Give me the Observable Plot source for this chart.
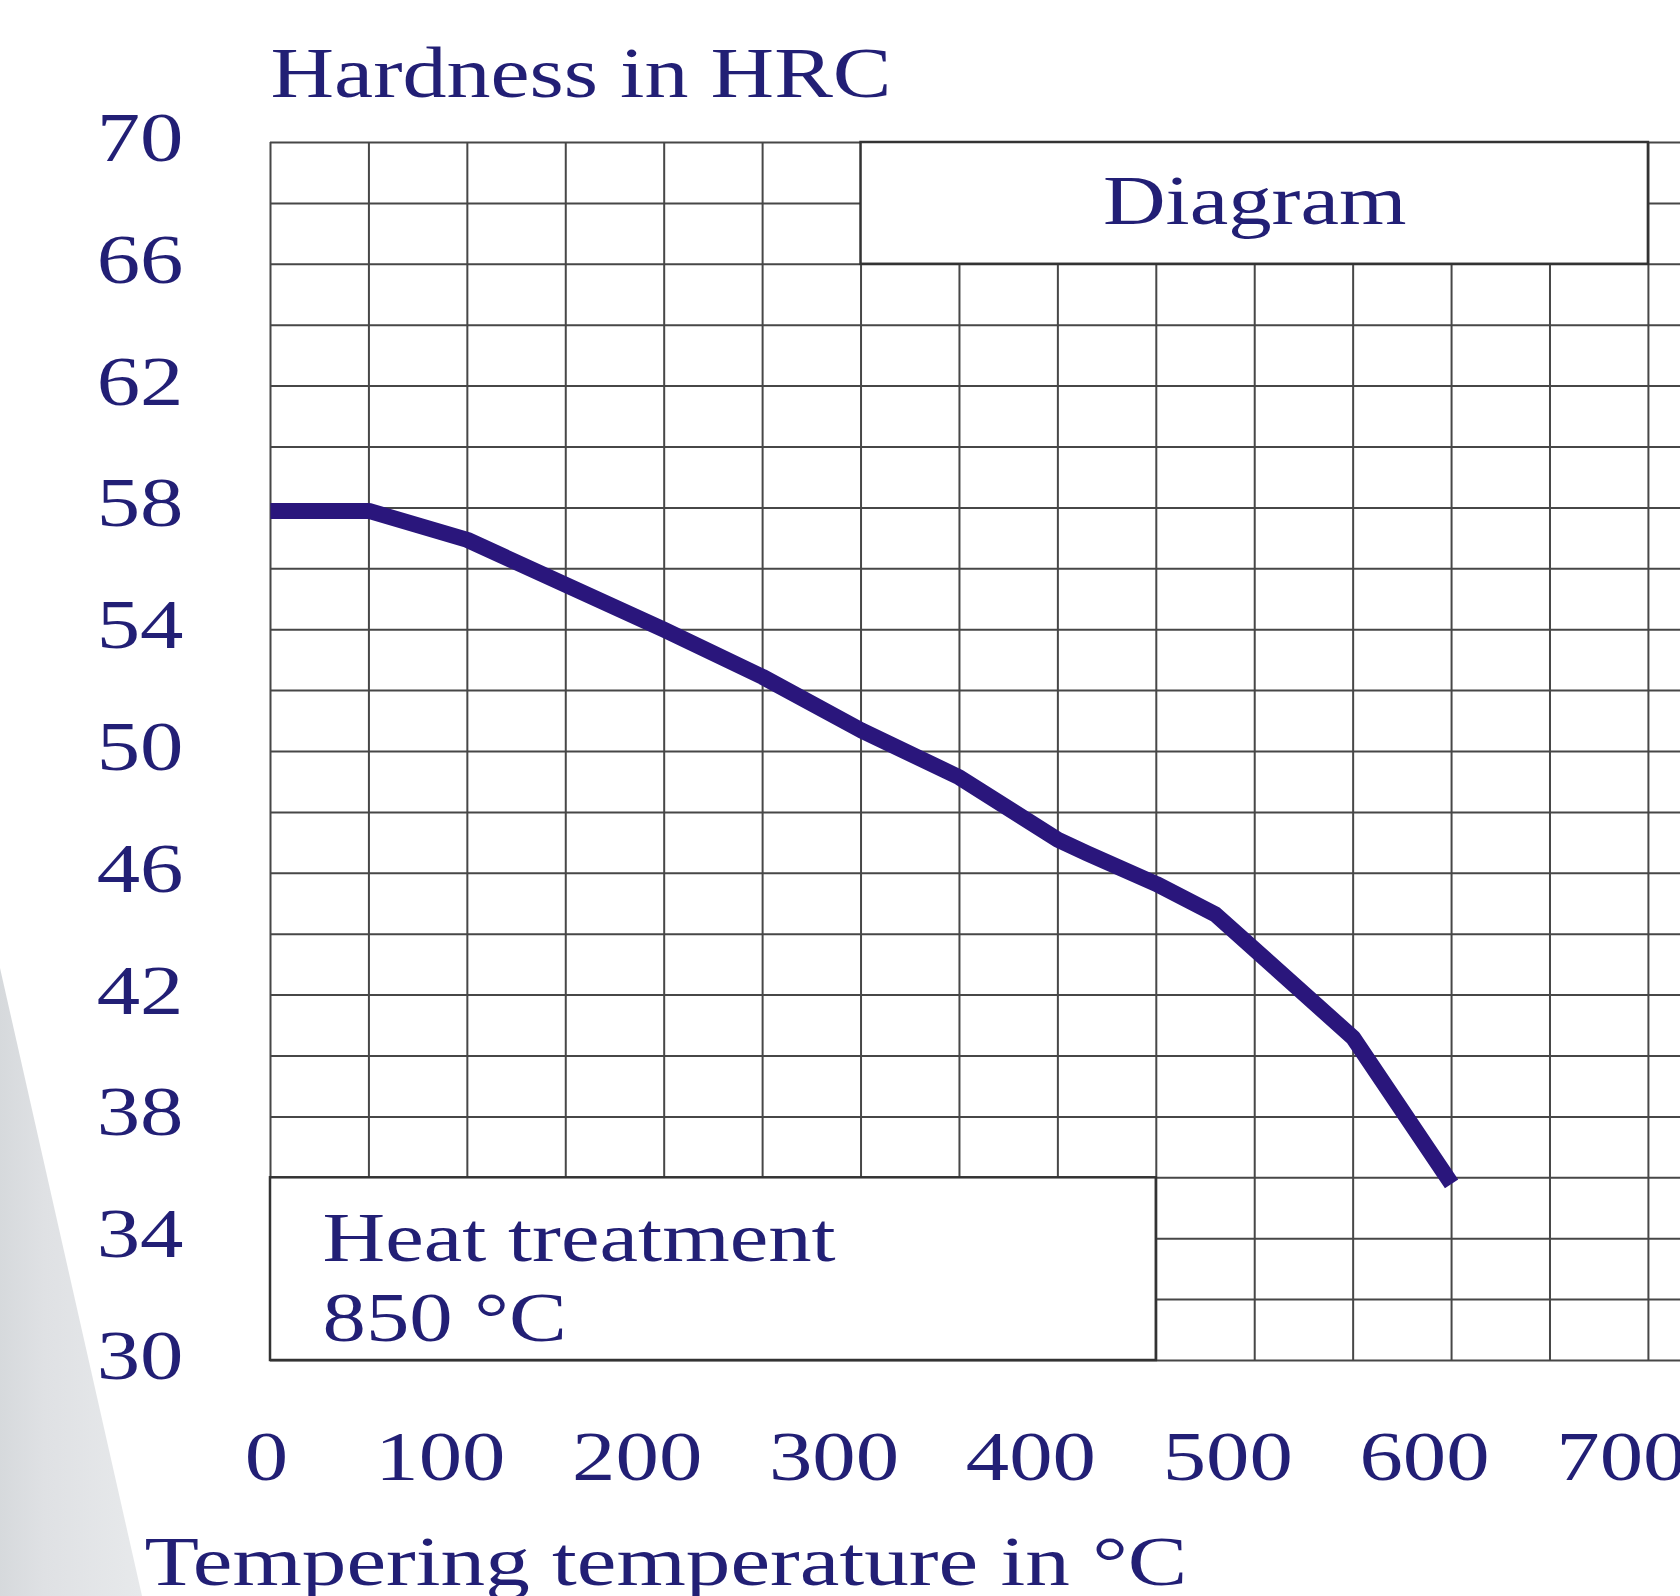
<!DOCTYPE html>
<html>
<head>
<meta charset="utf-8">
<script src="https://cdn.jsdelivr.net/npm/d3@7"></script>
<script src="https://cdn.jsdelivr.net/npm/@observablehq/plot@0.6"></script>
<style>
  html, body { margin: 0; padding: 0; background: #ffffff; }
  #wrap { position: relative; width: 1680px; height: 1596px; overflow: hidden; }
  #wedge { position: absolute; left: 0; top: 0; width: 1680px; height: 1596px;
    background: linear-gradient(90deg, #d6d9dc 0px, #dfe1e4 45px, #e7e9eb 140px);
    clip-path: polygon(0 968px, 142px 1596px, 0 1596px); }
  #chart { position: absolute; left: 0; top: 0; }
  #chart svg text { font-family: "Liberation Serif", "Times New Roman", serif; }
</style>
</head>
<body>
<div id="wrap"><div id="wedge"></div><div id="chart"></div></div>
<script>
// ---- data ----
const temperature = [0, 50, 100, 200, 250, 300, 350, 400, 415, 450, 480, 550, 600];
const hardness    = [57.9, 57.9, 56.95, 54.0, 52.45, 50.7, 49.15, 47.1, 46.65, 45.65, 44.65, 40.6, 35.8];

const xTickLabels = [0, 100, 200, 300, 400, 500, 600, 700];
const yTickLabels = [70, 66, 62, 58, 54, 50, 46, 42, 38, 34, 30];

const xGridLines = [0, 50, 100, 150, 200, 250, 300, 350, 400, 450, 500, 550, 600, 650, 700];
const yGridLines = [30, 32, 34, 36, 38, 40, 42, 44, 46, 48, 50, 52, 54, 56, 58, 60, 62, 64, 66, 68, 70];

const boxLabels = ["Diagram", "Heat treatment\n850 °C"];
const boxTempFrom = [300, 0];
const boxTempTo   = [700, 450];
const boxHrcFrom  = [66, 30];
const boxHrcTo    = [70, 36];

const titleY = "Hardness in HRC";
const titleX = "Tempering temperature in °C";

// ---- tables built from the arrays ----
const curve = temperature.map((t, i) => ({t, h: hardness[i]}));
const boxes = boxLabels.map((label, i) => ({
  label, x1: boxTempFrom[i], x2: boxTempTo[i], y1: boxHrcFrom[i], y2: boxHrcTo[i]
}));

const ink = "#221f75";
const gridColor = "#474747";

const plot = Plot.plot({
  width: 1680,
  height: 1596,
  marginLeft: 270,
  marginRight: 0,
  marginTop: 142,
  marginBottom: 236,
  x: {domain: [0, 716.3]},
  y: {domain: [30, 70]},
  style: {background: "transparent", fontFamily: "Liberation Serif", color: ink},
  marks: [
    Plot.ruleY(yGridLines, {stroke: gridColor, strokeWidth: 2}),
    Plot.ruleX(xGridLines, {y1: 30, y2: 70, stroke: gridColor, strokeWidth: 2}),
    Plot.rect(boxes, {x1: "x1", x2: "x2", y1: "y1", y2: "y2", fill: "white", stroke: "#333", strokeWidth: 2.5}),
    Plot.text(boxes.slice(0, 1), {
      x: d => (d.x1 + d.x2) / 2, y: d => (d.y1 + d.y2) / 2, text: "label",
      fontSize: 70, fill: ink, lineAnchor: "middle", dy: -2
    }),
    Plot.text(boxes.slice(1), {
      x: "x1", y: "y2", text: "label", textAnchor: "start", lineAnchor: "top",
      lineHeight: 1.15, dx: 52, dy: 26, fontSize: 70, fill: ink
    }),
    Plot.line(curve, {
      x: "t", y: "h", stroke: "#2a167c", strokeWidth: 16,
      strokeLinejoin: "round", strokeLinecap: "butt"
    }),
    Plot.axisY(yTickLabels, {tickSize: 0, tickPadding: 87, fontSize: 70, dy: -4, fill: ink, label: null}),
    Plot.axisX(xTickLabels.slice(0, 1), {tickSize: 0, tickPadding: 70, fontSize: 70, dx: -4, fill: ink, label: null}),
    Plot.axisX(xTickLabels.slice(1), {tickSize: 0, tickPadding: 70, fontSize: 70, dx: -27, fill: ink, label: null}),
    Plot.text([titleY], {
      frameAnchor: "top-left", textAnchor: "start", lineAnchor: "middle",
      dy: -68, fontSize: 71, fill: ink
    }),
    Plot.text([titleX], {
      frameAnchor: "bottom-left", textAnchor: "start", lineAnchor: "middle",
      dx: -126, dy: 202, fontSize: 70, fill: ink, className: "xtitle"
    })
  ]
});

document.getElementById("chart").appendChild(plot);

// The reference typeface is set horizontally wide: stretch each label around its anchor.
d3.select(plot).selectAll("text").each(function() {
  const stretch = this.closest(".xtitle") ? 1.275 : 1.24;
  const t = this.getAttribute("transform");
  if (t) {
    this.setAttribute("transform", t + ` scale(${stretch},1)`);
  } else {
    const x = +(this.getAttribute("x") || 0);
    this.setAttribute("transform", `translate(${x},0) scale(${stretch},1) translate(${-x},0)`);
  }
});
</script>
</body>
</html>
